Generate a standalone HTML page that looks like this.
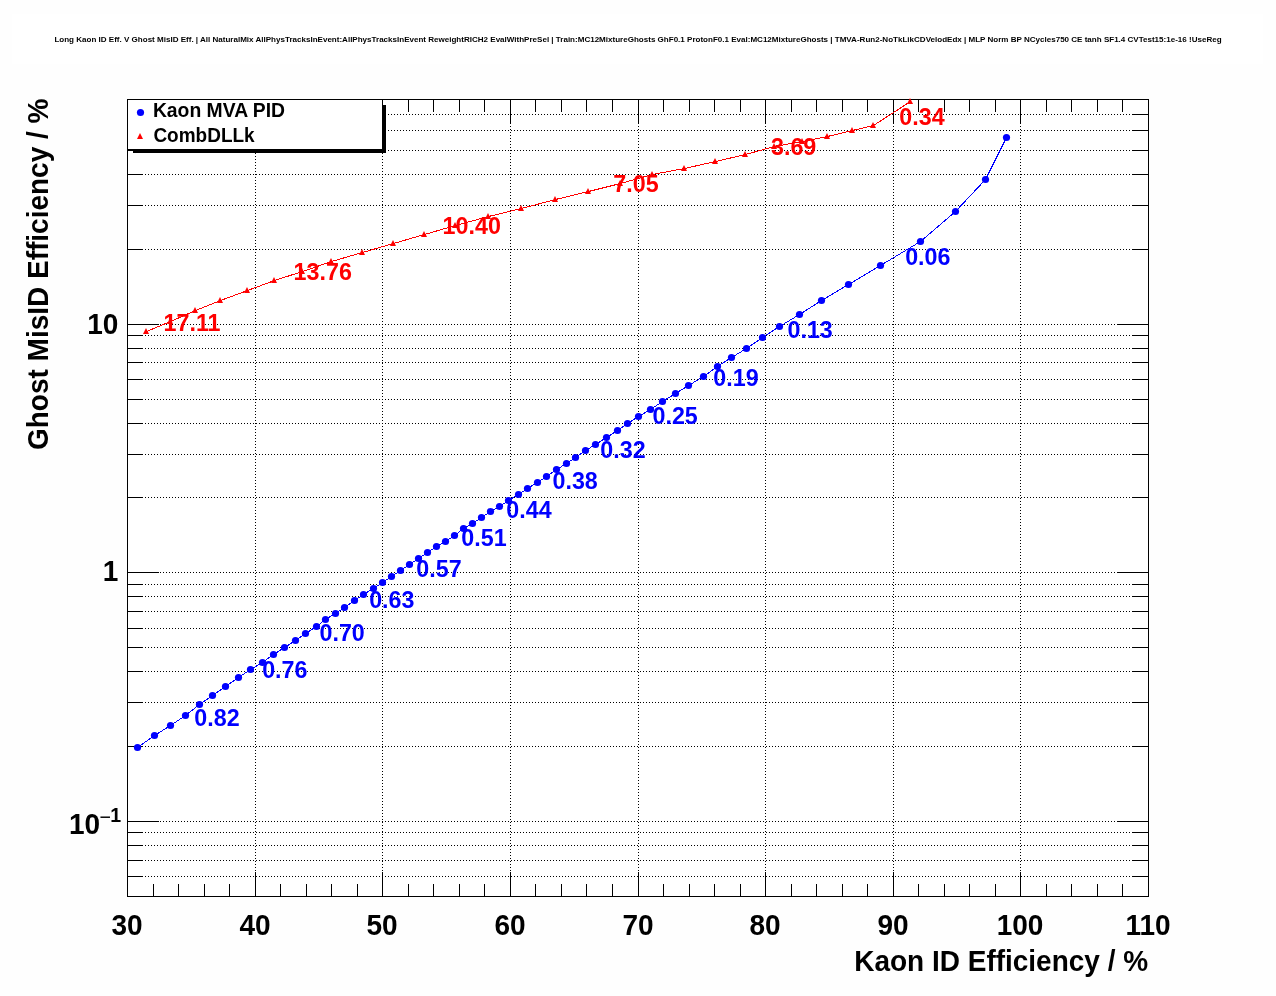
<!DOCTYPE html>
<html><head><meta charset="utf-8"><title>Kaon ID vs Ghost MisID</title>
<style>html,body{margin:0;padding:0;background:#fff;}body{width:1276px;height:996px;overflow:hidden;}svg{display:block;will-change:transform;}</style>
</head><body>
<svg width="1276" height="996" viewBox="0 0 1276 996">
<rect x="0" y="0" width="1276" height="996" fill="#fefefe"/>
<rect x="12" y="14" width="1251" height="50" fill="#ffffff"/>
<rect x="127" y="99" width="1022" height="798" fill="#ffffff"/>
<text x="638" y="42" font-size="8.04" text-anchor="middle" font-family="'Liberation Sans', Arial, Helvetica, sans-serif" font-weight="bold" fill="#000">Long Kaon ID Eff. V Ghost MisID Eff. | All NaturalMix AllPhysTracksInEvent:AllPhysTracksInEvent ReweightRICH2 EvalWithPreSel | Train:MC12MixtureGhosts GhF0.1 ProtonF0.1 Eval:MC12MixtureGhosts | TMVA-Run2-NoTkLikCDVelodEdx | MLP Norm BP NCycles750 CE tanh SF1.4 CVTest15:1e-16 !UseReg</text>
<g shape-rendering="crispEdges" stroke="#000" stroke-width="1" stroke-dasharray="1 2" fill="none">
<line x1="127" y1="876.5" x2="1148" y2="876.5"/>
<line x1="127" y1="860.5" x2="1148" y2="860.5"/>
<line x1="127" y1="845.5" x2="1148" y2="845.5"/>
<line x1="127" y1="832.5" x2="1148" y2="832.5"/>
<line x1="127" y1="821.5" x2="1148" y2="821.5"/>
<line x1="127" y1="746.5" x2="1148" y2="746.5"/>
<line x1="127" y1="702.5" x2="1148" y2="702.5"/>
<line x1="127" y1="671.5" x2="1148" y2="671.5"/>
<line x1="127" y1="647.5" x2="1148" y2="647.5"/>
<line x1="127" y1="628.5" x2="1148" y2="628.5"/>
<line x1="127" y1="611.5" x2="1148" y2="611.5"/>
<line x1="127" y1="596.5" x2="1148" y2="596.5"/>
<line x1="127" y1="584.5" x2="1148" y2="584.5"/>
<line x1="127" y1="572.5" x2="1148" y2="572.5"/>
<line x1="127" y1="497.5" x2="1148" y2="497.5"/>
<line x1="127" y1="454.5" x2="1148" y2="454.5"/>
<line x1="127" y1="423.5" x2="1148" y2="423.5"/>
<line x1="127" y1="399.5" x2="1148" y2="399.5"/>
<line x1="127" y1="379.5" x2="1148" y2="379.5"/>
<line x1="127" y1="362.5" x2="1148" y2="362.5"/>
<line x1="127" y1="348.5" x2="1148" y2="348.5"/>
<line x1="127" y1="335.5" x2="1148" y2="335.5"/>
<line x1="127" y1="324.5" x2="1148" y2="324.5"/>
<line x1="127" y1="249.5" x2="1148" y2="249.5"/>
<line x1="127" y1="205.5" x2="1148" y2="205.5"/>
<line x1="127" y1="174.5" x2="1148" y2="174.5"/>
<line x1="127" y1="150.5" x2="1148" y2="150.5"/>
<line x1="127" y1="130.5" x2="1148" y2="130.5"/>
<line x1="127" y1="114.5" x2="1148" y2="114.5"/>
<line x1="255.5" y1="99" x2="255.5" y2="896"/>
<line x1="382.5" y1="99" x2="382.5" y2="896"/>
<line x1="510.5" y1="99" x2="510.5" y2="896"/>
<line x1="638.5" y1="99" x2="638.5" y2="896"/>
<line x1="765.5" y1="99" x2="765.5" y2="896"/>
<line x1="893.5" y1="99" x2="893.5" y2="896"/>
<line x1="1020.5" y1="99" x2="1020.5" y2="896"/>
</g>
<g shape-rendering="crispEdges" stroke="#000" stroke-width="1" fill="none">
<rect x="127.5" y="99.5" width="1021" height="797"/>
<line x1="127" y1="876.5" x2="143.0" y2="876.5"/>
<line x1="1149" y1="876.5" x2="1133.0" y2="876.5"/>
<line x1="127" y1="860.5" x2="143.0" y2="860.5"/>
<line x1="1149" y1="860.5" x2="1133.0" y2="860.5"/>
<line x1="127" y1="845.5" x2="143.0" y2="845.5"/>
<line x1="1149" y1="845.5" x2="1133.0" y2="845.5"/>
<line x1="127" y1="832.5" x2="143.0" y2="832.5"/>
<line x1="1149" y1="832.5" x2="1133.0" y2="832.5"/>
<line x1="127" y1="821.5" x2="158.5" y2="821.5"/>
<line x1="1149" y1="821.5" x2="1117.5" y2="821.5"/>
<line x1="127" y1="746.5" x2="143.0" y2="746.5"/>
<line x1="1149" y1="746.5" x2="1133.0" y2="746.5"/>
<line x1="127" y1="702.5" x2="143.0" y2="702.5"/>
<line x1="1149" y1="702.5" x2="1133.0" y2="702.5"/>
<line x1="127" y1="671.5" x2="143.0" y2="671.5"/>
<line x1="1149" y1="671.5" x2="1133.0" y2="671.5"/>
<line x1="127" y1="647.5" x2="143.0" y2="647.5"/>
<line x1="1149" y1="647.5" x2="1133.0" y2="647.5"/>
<line x1="127" y1="628.5" x2="143.0" y2="628.5"/>
<line x1="1149" y1="628.5" x2="1133.0" y2="628.5"/>
<line x1="127" y1="611.5" x2="143.0" y2="611.5"/>
<line x1="1149" y1="611.5" x2="1133.0" y2="611.5"/>
<line x1="127" y1="596.5" x2="143.0" y2="596.5"/>
<line x1="1149" y1="596.5" x2="1133.0" y2="596.5"/>
<line x1="127" y1="584.5" x2="143.0" y2="584.5"/>
<line x1="1149" y1="584.5" x2="1133.0" y2="584.5"/>
<line x1="127" y1="572.5" x2="158.5" y2="572.5"/>
<line x1="1149" y1="572.5" x2="1117.5" y2="572.5"/>
<line x1="127" y1="497.5" x2="143.0" y2="497.5"/>
<line x1="1149" y1="497.5" x2="1133.0" y2="497.5"/>
<line x1="127" y1="454.5" x2="143.0" y2="454.5"/>
<line x1="1149" y1="454.5" x2="1133.0" y2="454.5"/>
<line x1="127" y1="423.5" x2="143.0" y2="423.5"/>
<line x1="1149" y1="423.5" x2="1133.0" y2="423.5"/>
<line x1="127" y1="399.5" x2="143.0" y2="399.5"/>
<line x1="1149" y1="399.5" x2="1133.0" y2="399.5"/>
<line x1="127" y1="379.5" x2="143.0" y2="379.5"/>
<line x1="1149" y1="379.5" x2="1133.0" y2="379.5"/>
<line x1="127" y1="362.5" x2="143.0" y2="362.5"/>
<line x1="1149" y1="362.5" x2="1133.0" y2="362.5"/>
<line x1="127" y1="348.5" x2="143.0" y2="348.5"/>
<line x1="1149" y1="348.5" x2="1133.0" y2="348.5"/>
<line x1="127" y1="335.5" x2="143.0" y2="335.5"/>
<line x1="1149" y1="335.5" x2="1133.0" y2="335.5"/>
<line x1="127" y1="324.5" x2="158.5" y2="324.5"/>
<line x1="1149" y1="324.5" x2="1117.5" y2="324.5"/>
<line x1="127" y1="249.5" x2="143.0" y2="249.5"/>
<line x1="1149" y1="249.5" x2="1133.0" y2="249.5"/>
<line x1="127" y1="205.5" x2="143.0" y2="205.5"/>
<line x1="1149" y1="205.5" x2="1133.0" y2="205.5"/>
<line x1="127" y1="174.5" x2="143.0" y2="174.5"/>
<line x1="1149" y1="174.5" x2="1133.0" y2="174.5"/>
<line x1="127" y1="150.5" x2="143.0" y2="150.5"/>
<line x1="1149" y1="150.5" x2="1133.0" y2="150.5"/>
<line x1="127" y1="130.5" x2="143.0" y2="130.5"/>
<line x1="1149" y1="130.5" x2="1133.0" y2="130.5"/>
<line x1="127" y1="114.5" x2="143.0" y2="114.5"/>
<line x1="1149" y1="114.5" x2="1133.0" y2="114.5"/>
<line x1="127.5" y1="897" x2="127.5" y2="872"/>
<line x1="127.5" y1="99" x2="127.5" y2="124"/>
<line x1="153.5" y1="897" x2="153.5" y2="884"/>
<line x1="153.5" y1="99" x2="153.5" y2="112"/>
<line x1="178.5" y1="897" x2="178.5" y2="884"/>
<line x1="178.5" y1="99" x2="178.5" y2="112"/>
<line x1="204.5" y1="897" x2="204.5" y2="884"/>
<line x1="204.5" y1="99" x2="204.5" y2="112"/>
<line x1="229.5" y1="897" x2="229.5" y2="884"/>
<line x1="229.5" y1="99" x2="229.5" y2="112"/>
<line x1="255.5" y1="897" x2="255.5" y2="872"/>
<line x1="255.5" y1="99" x2="255.5" y2="124"/>
<line x1="280.5" y1="897" x2="280.5" y2="884"/>
<line x1="280.5" y1="99" x2="280.5" y2="112"/>
<line x1="306.5" y1="897" x2="306.5" y2="884"/>
<line x1="306.5" y1="99" x2="306.5" y2="112"/>
<line x1="331.5" y1="897" x2="331.5" y2="884"/>
<line x1="331.5" y1="99" x2="331.5" y2="112"/>
<line x1="357.5" y1="897" x2="357.5" y2="884"/>
<line x1="357.5" y1="99" x2="357.5" y2="112"/>
<line x1="382.5" y1="897" x2="382.5" y2="872"/>
<line x1="382.5" y1="99" x2="382.5" y2="124"/>
<line x1="408.5" y1="897" x2="408.5" y2="884"/>
<line x1="408.5" y1="99" x2="408.5" y2="112"/>
<line x1="433.5" y1="897" x2="433.5" y2="884"/>
<line x1="433.5" y1="99" x2="433.5" y2="112"/>
<line x1="459.5" y1="897" x2="459.5" y2="884"/>
<line x1="459.5" y1="99" x2="459.5" y2="112"/>
<line x1="484.5" y1="897" x2="484.5" y2="884"/>
<line x1="484.5" y1="99" x2="484.5" y2="112"/>
<line x1="510.5" y1="897" x2="510.5" y2="872"/>
<line x1="510.5" y1="99" x2="510.5" y2="124"/>
<line x1="535.5" y1="897" x2="535.5" y2="884"/>
<line x1="535.5" y1="99" x2="535.5" y2="112"/>
<line x1="561.5" y1="897" x2="561.5" y2="884"/>
<line x1="561.5" y1="99" x2="561.5" y2="112"/>
<line x1="586.5" y1="897" x2="586.5" y2="884"/>
<line x1="586.5" y1="99" x2="586.5" y2="112"/>
<line x1="612.5" y1="897" x2="612.5" y2="884"/>
<line x1="612.5" y1="99" x2="612.5" y2="112"/>
<line x1="638.5" y1="897" x2="638.5" y2="872"/>
<line x1="638.5" y1="99" x2="638.5" y2="124"/>
<line x1="663.5" y1="897" x2="663.5" y2="884"/>
<line x1="663.5" y1="99" x2="663.5" y2="112"/>
<line x1="689.5" y1="897" x2="689.5" y2="884"/>
<line x1="689.5" y1="99" x2="689.5" y2="112"/>
<line x1="714.5" y1="897" x2="714.5" y2="884"/>
<line x1="714.5" y1="99" x2="714.5" y2="112"/>
<line x1="740.5" y1="897" x2="740.5" y2="884"/>
<line x1="740.5" y1="99" x2="740.5" y2="112"/>
<line x1="765.5" y1="897" x2="765.5" y2="872"/>
<line x1="765.5" y1="99" x2="765.5" y2="124"/>
<line x1="791.5" y1="897" x2="791.5" y2="884"/>
<line x1="791.5" y1="99" x2="791.5" y2="112"/>
<line x1="816.5" y1="897" x2="816.5" y2="884"/>
<line x1="816.5" y1="99" x2="816.5" y2="112"/>
<line x1="842.5" y1="897" x2="842.5" y2="884"/>
<line x1="842.5" y1="99" x2="842.5" y2="112"/>
<line x1="867.5" y1="897" x2="867.5" y2="884"/>
<line x1="867.5" y1="99" x2="867.5" y2="112"/>
<line x1="893.5" y1="897" x2="893.5" y2="872"/>
<line x1="893.5" y1="99" x2="893.5" y2="124"/>
<line x1="918.5" y1="897" x2="918.5" y2="884"/>
<line x1="918.5" y1="99" x2="918.5" y2="112"/>
<line x1="944.5" y1="897" x2="944.5" y2="884"/>
<line x1="944.5" y1="99" x2="944.5" y2="112"/>
<line x1="969.5" y1="897" x2="969.5" y2="884"/>
<line x1="969.5" y1="99" x2="969.5" y2="112"/>
<line x1="995.5" y1="897" x2="995.5" y2="884"/>
<line x1="995.5" y1="99" x2="995.5" y2="112"/>
<line x1="1020.5" y1="897" x2="1020.5" y2="872"/>
<line x1="1020.5" y1="99" x2="1020.5" y2="124"/>
<line x1="1046.5" y1="897" x2="1046.5" y2="884"/>
<line x1="1046.5" y1="99" x2="1046.5" y2="112"/>
<line x1="1071.5" y1="897" x2="1071.5" y2="884"/>
<line x1="1071.5" y1="99" x2="1071.5" y2="112"/>
<line x1="1097.5" y1="897" x2="1097.5" y2="884"/>
<line x1="1097.5" y1="99" x2="1097.5" y2="112"/>
<line x1="1122.5" y1="897" x2="1122.5" y2="884"/>
<line x1="1122.5" y1="99" x2="1122.5" y2="112"/>
<line x1="1148.5" y1="897" x2="1148.5" y2="872"/>
<line x1="1148.5" y1="99" x2="1148.5" y2="124"/>
</g>
<g shape-rendering="crispEdges" fill="none" stroke-width="1">
<polyline points="137.5,747.5 154.5,735.5 170.5,725.5 185.5,715.5 199.5,704.5 212.5,695.5 225.5,686.5 238.5,677.5 250.5,669.5 262.5,662.5 273.5,654.5 284.5,647.5 295.5,640.5 305.5,633.5 316.5,626.5 325.5,619.5 335.5,613.5 344.5,607.5 354.5,600.5 363.5,594.5 373.5,588.5 382.5,582.5 391.5,576.5 400.5,570.5 409.5,564.5 418.5,558.5 427.5,552.5 436.5,546.5 445.5,541.5 454.5,535.5 463.5,528.5 472.5,523.5 481.5,517.5 490.5,511.5 499.5,506.5 508.5,500.5 518.5,494.5 527.5,488.5 537.5,482.5 546.5,476.5 556.5,469.5 566.5,463.5 575.5,457.5 585.5,450.5 595.5,444.5 606.5,437.5 617.5,430.5 627.5,423.5 638.5,416.5 650.5,409.5 662.5,401.5 675.5,393.5 688.5,385.5 703.5,376.5 717.5,366.5 731.5,357.5 746.5,348.5 762.5,337.5 779.5,326.5 799.5,314.5 821.5,300.5 848.5,284.5 880.5,265.5 920.5,241.5 955.5,211.5 985.5,179.5 1006.5,137.5" stroke="#0000ff"/>
<polyline points="146.5,331.5 170.5,321.5 195.5,310.5 220.5,300.5 247.5,290.5 274.5,280.5 302.5,271.5 331.5,261.5 362.5,252.5 393.5,243.5 424.5,234.5 455.5,225.5 488.5,216.5 521.5,208.5 555.5,199.5 588.5,191.5 620.5,183.5 652.5,174.5 684.5,168.5 715.5,161.5 745.5,154.5 774.5,146.5 802.5,141.5 827.5,136.5 852.5,130.5 873.5,125.5 910.5,101.5" stroke="#ff0000"/>
</g>
<g fill="#0000ff">
<circle cx="137.5" cy="747.5" r="3.6"/>
<circle cx="154.5" cy="735.5" r="3.6"/>
<circle cx="170.5" cy="725.5" r="3.6"/>
<circle cx="185.5" cy="715.5" r="3.6"/>
<circle cx="199.5" cy="704.5" r="3.6"/>
<circle cx="212.5" cy="695.5" r="3.6"/>
<circle cx="225.5" cy="686.5" r="3.6"/>
<circle cx="238.5" cy="677.5" r="3.6"/>
<circle cx="250.5" cy="669.5" r="3.6"/>
<circle cx="262.5" cy="662.5" r="3.6"/>
<circle cx="273.5" cy="654.5" r="3.6"/>
<circle cx="284.5" cy="647.5" r="3.6"/>
<circle cx="295.5" cy="640.5" r="3.6"/>
<circle cx="305.5" cy="633.5" r="3.6"/>
<circle cx="316.5" cy="626.5" r="3.6"/>
<circle cx="325.5" cy="619.5" r="3.6"/>
<circle cx="335.5" cy="613.5" r="3.6"/>
<circle cx="344.5" cy="607.5" r="3.6"/>
<circle cx="354.5" cy="600.5" r="3.6"/>
<circle cx="363.5" cy="594.5" r="3.6"/>
<circle cx="373.5" cy="588.5" r="3.6"/>
<circle cx="382.5" cy="582.5" r="3.6"/>
<circle cx="391.5" cy="576.5" r="3.6"/>
<circle cx="400.5" cy="570.5" r="3.6"/>
<circle cx="409.5" cy="564.5" r="3.6"/>
<circle cx="418.5" cy="558.5" r="3.6"/>
<circle cx="427.5" cy="552.5" r="3.6"/>
<circle cx="436.5" cy="546.5" r="3.6"/>
<circle cx="445.5" cy="541.5" r="3.6"/>
<circle cx="454.5" cy="535.5" r="3.6"/>
<circle cx="463.5" cy="528.5" r="3.6"/>
<circle cx="472.5" cy="523.5" r="3.6"/>
<circle cx="481.5" cy="517.5" r="3.6"/>
<circle cx="490.5" cy="511.5" r="3.6"/>
<circle cx="499.5" cy="506.5" r="3.6"/>
<circle cx="508.5" cy="500.5" r="3.6"/>
<circle cx="518.5" cy="494.5" r="3.6"/>
<circle cx="527.5" cy="488.5" r="3.6"/>
<circle cx="537.5" cy="482.5" r="3.6"/>
<circle cx="546.5" cy="476.5" r="3.6"/>
<circle cx="556.5" cy="469.5" r="3.6"/>
<circle cx="566.5" cy="463.5" r="3.6"/>
<circle cx="575.5" cy="457.5" r="3.6"/>
<circle cx="585.5" cy="450.5" r="3.6"/>
<circle cx="595.5" cy="444.5" r="3.6"/>
<circle cx="606.5" cy="437.5" r="3.6"/>
<circle cx="617.5" cy="430.5" r="3.6"/>
<circle cx="627.5" cy="423.5" r="3.6"/>
<circle cx="638.5" cy="416.5" r="3.6"/>
<circle cx="650.5" cy="409.5" r="3.6"/>
<circle cx="662.5" cy="401.5" r="3.6"/>
<circle cx="675.5" cy="393.5" r="3.6"/>
<circle cx="688.5" cy="385.5" r="3.6"/>
<circle cx="703.5" cy="376.5" r="3.6"/>
<circle cx="717.5" cy="366.5" r="3.6"/>
<circle cx="731.5" cy="357.5" r="3.6"/>
<circle cx="746.5" cy="348.5" r="3.6"/>
<circle cx="762.5" cy="337.5" r="3.6"/>
<circle cx="779.5" cy="326.5" r="3.6"/>
<circle cx="799.5" cy="314.5" r="3.6"/>
<circle cx="821.5" cy="300.5" r="3.6"/>
<circle cx="848.5" cy="284.5" r="3.6"/>
<circle cx="880.5" cy="265.5" r="3.6"/>
<circle cx="920.5" cy="241.5" r="3.6"/>
<circle cx="955.5" cy="211.5" r="3.6"/>
<circle cx="985.5" cy="179.5" r="3.6"/>
<circle cx="1006.5" cy="137.5" r="3.6"/>
</g>
<g fill="#ff0000">
<polygon points="146.0,328.0 143.0,334.0 149.0,334.0"/>
<polygon points="170.0,318.0 167.0,324.0 173.0,324.0"/>
<polygon points="195.0,307.0 192.0,313.0 198.0,313.0"/>
<polygon points="220.0,297.0 217.0,303.0 223.0,303.0"/>
<polygon points="247.0,287.0 244.0,293.0 250.0,293.0"/>
<polygon points="274.0,277.0 271.0,283.0 277.0,283.0"/>
<polygon points="302.0,268.0 299.0,274.0 305.0,274.0"/>
<polygon points="331.0,258.0 328.0,264.0 334.0,264.0"/>
<polygon points="362.0,249.0 359.0,255.0 365.0,255.0"/>
<polygon points="393.0,240.0 390.0,246.0 396.0,246.0"/>
<polygon points="424.0,231.0 421.0,237.0 427.0,237.0"/>
<polygon points="455.0,222.0 452.0,228.0 458.0,228.0"/>
<polygon points="488.0,213.0 485.0,219.0 491.0,219.0"/>
<polygon points="521.0,205.0 518.0,211.0 524.0,211.0"/>
<polygon points="555.0,196.0 552.0,202.0 558.0,202.0"/>
<polygon points="588.0,188.0 585.0,194.0 591.0,194.0"/>
<polygon points="620.0,180.0 617.0,186.0 623.0,186.0"/>
<polygon points="652.0,171.0 649.0,177.0 655.0,177.0"/>
<polygon points="684.0,165.0 681.0,171.0 687.0,171.0"/>
<polygon points="715.0,158.0 712.0,164.0 718.0,164.0"/>
<polygon points="745.0,151.0 742.0,157.0 748.0,157.0"/>
<polygon points="774.0,143.0 771.0,149.0 777.0,149.0"/>
<polygon points="802.0,138.0 799.0,144.0 805.0,144.0"/>
<polygon points="827.0,133.0 824.0,139.0 830.0,139.0"/>
<polygon points="852.0,127.0 849.0,133.0 855.0,133.0"/>
<polygon points="873.0,122.0 870.0,128.0 876.0,128.0"/>
<polygon points="910.0,98.0 907.0,104.0 913.0,104.0"/>
</g>
<g font-family="'Liberation Sans', Arial, Helvetica, sans-serif" font-weight="bold" font-size="23.30">
<text transform="translate(194.37 726.44) scale(1 1.06)" fill="#0000ff">0.82</text>
<text transform="translate(262.17 678.04) scale(1 1.06)" fill="#0000ff">0.76</text>
<text transform="translate(319.47 641.34) scale(1 1.06)" fill="#0000ff">0.70</text>
<text transform="translate(369.17 607.54) scale(1 1.06)" fill="#0000ff">0.63</text>
<text transform="translate(416.37 576.94) scale(1 1.06)" fill="#0000ff">0.57</text>
<text transform="translate(461.37 546.44) scale(1 1.06)" fill="#0000ff">0.51</text>
<text transform="translate(506.27 517.54) scale(1 1.06)" fill="#0000ff">0.44</text>
<text transform="translate(552.47 489.14) scale(1 1.06)" fill="#0000ff">0.38</text>
<text transform="translate(600.27 458.04) scale(1 1.06)" fill="#0000ff">0.32</text>
<text transform="translate(652.47 423.94) scale(1 1.06)" fill="#0000ff">0.25</text>
<text transform="translate(713.27 386.04) scale(1 1.06)" fill="#0000ff">0.19</text>
<text transform="translate(787.47 337.54) scale(1 1.06)" fill="#0000ff">0.13</text>
<text transform="translate(905.17 265.34) scale(1 1.06)" fill="#0000ff">0.06</text>
<text transform="translate(163.50 331.39) scale(1 1.06)" fill="#ff0000">17.11</text>
<text transform="translate(293.60 280.29) scale(1 1.06)" fill="#ff0000">13.76</text>
<text transform="translate(442.60 234.29) scale(1 1.06)" fill="#ff0000">10.40</text>
<text transform="translate(613.30 191.69) scale(1 1.06)" fill="#ff0000">7.05</text>
<text transform="translate(770.96 154.54) scale(1 1.06)" fill="#ff0000">3.69</text>
<text transform="translate(899.27 125.44) scale(1 1.06)" fill="#ff0000">0.34</text>
</g>
<g font-family="'Liberation Sans', Arial, Helvetica, sans-serif" font-weight="bold" font-size="28" fill="#000">
<text transform="translate(127.0 935.3) scale(1 1.06)" text-anchor="middle">30</text>
<text transform="translate(255.0 935.3) scale(1 1.06)" text-anchor="middle">40</text>
<text transform="translate(382.0 935.3) scale(1 1.06)" text-anchor="middle">50</text>
<text transform="translate(510.0 935.3) scale(1 1.06)" text-anchor="middle">60</text>
<text transform="translate(638.0 935.3) scale(1 1.06)" text-anchor="middle">70</text>
<text transform="translate(765.0 935.3) scale(1 1.06)" text-anchor="middle">80</text>
<text transform="translate(893.0 935.3) scale(1 1.06)" text-anchor="middle">90</text>
<text transform="translate(1020.0 935.3) scale(1 1.06)" text-anchor="middle">100</text>
<text transform="translate(1148.0 935.3) scale(1 1.06)" text-anchor="middle">110</text>
<text transform="translate(118.3 333.8) scale(1 1.06)" text-anchor="end">10</text>
<text transform="translate(118.3 580.8) scale(1 1.06)" text-anchor="end">1</text>
<text transform="translate(100.1 833.8) scale(1 1.06)" text-anchor="end">10</text>
<text transform="translate(99.6 823.7) scale(1 1.06)" font-size="19.6" font-weight="normal">&#8722;</text>
<text transform="translate(110.2 821.7) scale(1 1.06)" font-size="19.6">1</text>
<text transform="translate(1148.1 970.8) scale(1 1.05)" text-anchor="end">Kaon ID Efficiency / %</text>
<text transform="translate(48.2 98.6) rotate(-90) scale(1 1.04)" text-anchor="end">Ghost MisID Efficiency / %</text>
</g>
<g shape-rendering="crispEdges">
<rect x="133" y="150" width="253" height="3" fill="#000"/>
<rect x="382" y="105" width="4" height="48" fill="#000"/>
<rect x="127.5" y="99.5" width="255" height="50" fill="#fff" stroke="#000" stroke-width="1"/>
</g>
<circle cx="140.5" cy="112.5" r="3.6" fill="#0000ff"/>
<polygon points="140,133 137,139 143,139" fill="#ff0000"/>
<g font-family="'Liberation Sans', Arial, Helvetica, sans-serif" font-weight="bold" font-size="19" fill="#000">
<text transform="translate(152.9 116.9) scale(1 1.06)" font-size="19.35">Kaon MVA PID</text>
<text transform="translate(153.4 142.1) scale(1 1.06)">CombDLLk</text>
</g>
</svg>
</body></html>
